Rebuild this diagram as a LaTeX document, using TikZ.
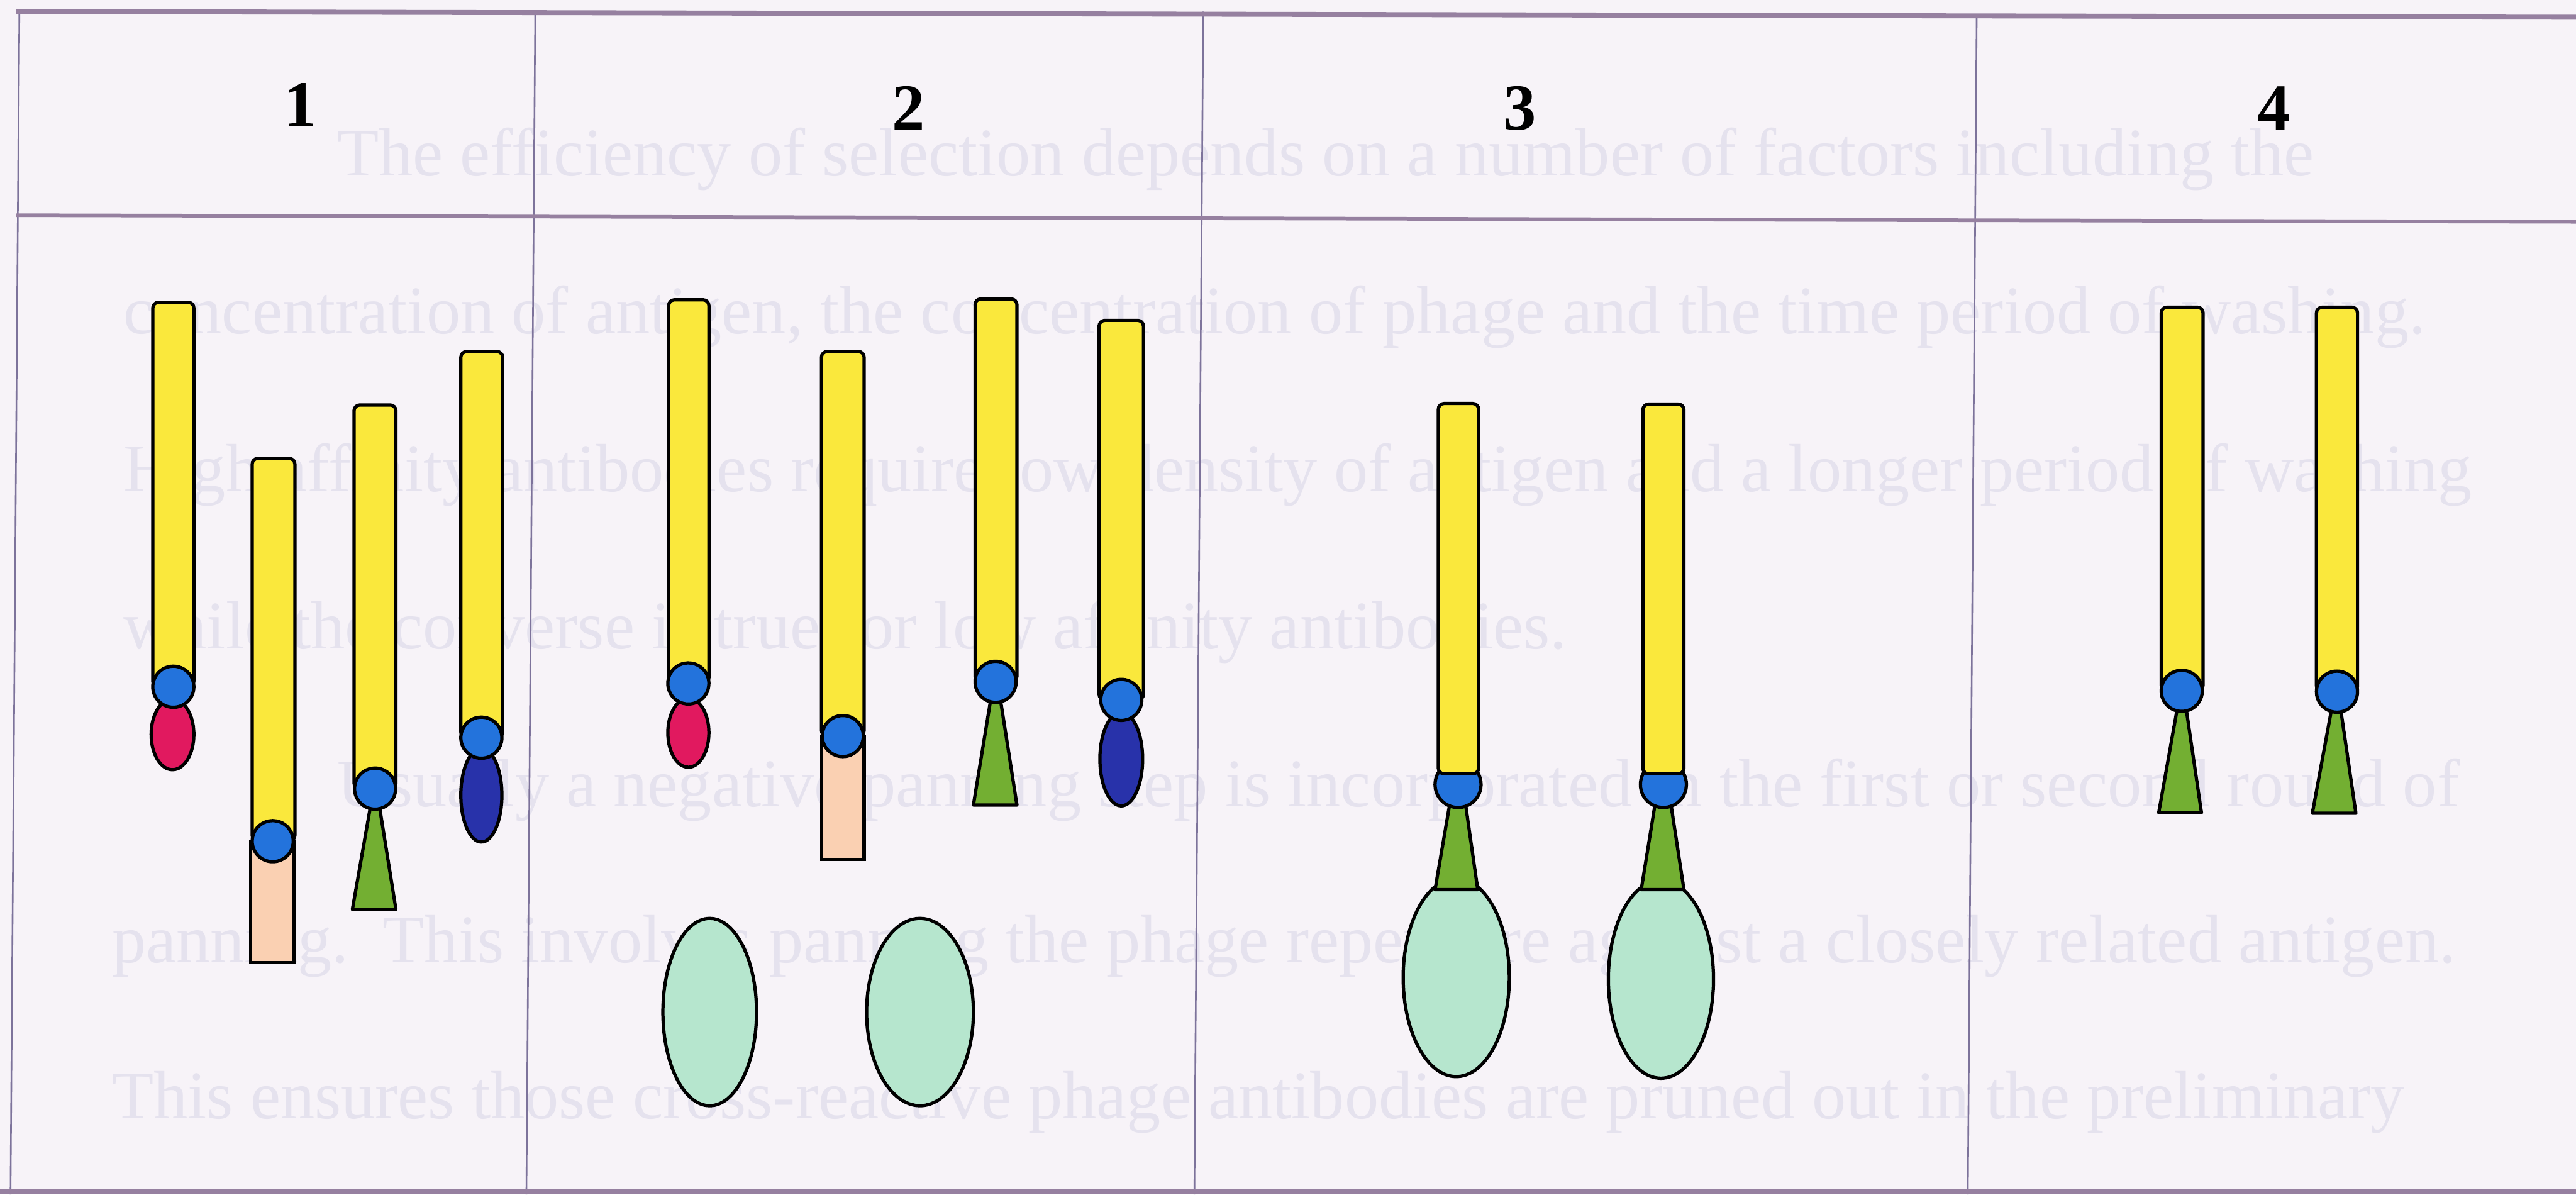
\documentclass[tikz,border=0pt]{standalone}
\usepackage{fontspec}
\setmainfont{Liberation Serif}

\definecolor{paper}{RGB}{247,243,248}
\definecolor{ghost}{RGB}{229,226,238}
\definecolor{hline}{RGB}{150,128,160}
\definecolor{vline}{RGB}{125,115,155}
\definecolor{rodyellow}{RGB}{250,232,60}
\definecolor{hinge}{RGB}{35,115,220}
\definecolor{epired}{RGB}{225,25,95}
\definecolor{epinavy}{RGB}{40,50,170}
\definecolor{epipeach}{RGB}{250,208,178}
\definecolor{epigreen}{RGB}{115,175,50}
\definecolor{antigen}{RGB}{182,230,206}

\tikzset{
  outl/.style={draw=black, line width=2pt},
  rod/.style={outl, fill=rodyellow, rounded corners=3.5pt},
  hingeball/.style={outl, fill=hinge},
  redtip/.style={outl, fill=epired},
  navytip/.style={outl, fill=epinavy},
  peachtip/.style={outl, fill=epipeach},
  greentip/.style={outl, fill=epigreen, line join=round},
  antigenblob/.style={outl, fill=antigen},
  thickrule/.style={draw=hline, line width=3pt},
  headrule/.style={draw=hline, line width=2.2pt},
  colrule/.style={draw=vline, line width=1pt},
  headnum/.style={font=\fontsize{40}{40}\selectfont\bfseries, inner sep=0pt, anchor=base},
  bleed/.style={font=\fontsize{41.5}{41.5}\selectfont, text=ghost, inner sep=0pt, anchor=base west}
}

\begin{document}
\begin{tikzpicture}[x=1pt, y=-1pt]
  % page
  \fill[paper] (0,0) rectangle (1568,727);
  \useasboundingbox (0,0) rectangle (1568,727);

  % text from the reverse side of the sheet showing through
  \node[bleed] (b1) at (205,107) {The efficiency of selection depends on a number of factors including the};
  \node[bleed] (b2) at (75,203)  {concentration of antigen, the concentration of phage and the time period of washing.};
  \node[bleed] (b3) at (75,299)  {High affinity antibodies require low density of antigen and a longer period of washing};
  \node[bleed] (b4) at (75,395)  {while the converse is true for low affinity antibodies.};
  \node[bleed] (b5) at (205,491) {Usually a negative panning step is incorporated in the first or second round of};
  \node[bleed] (b6) at (68,586)  {panning.\ \ This involves panning the phage repertoire against a closely related antigen.};
  \node[bleed] (b7) at (68,681)  {This ensures those cross-reactive phage antibodies are pruned out in the preliminary};

  % table rules
  \draw[colrule] (11.8,7) -- (6.4,727);
  \draw[colrule] (325.8,7) -- (320.4,727);
  \draw[colrule] (732.4,7) -- (727,727);
  \draw[colrule] (1203.2,9) -- (1197.8,727);
  \draw[thickrule] (10,7) -- (1568,10.5);
  \draw[headrule] (10,131) -- (1568,135);
  \draw[thickrule] (0,725.5) -- (1568,725.5);

  % column headings
  \node[headnum] (h1) at (183,77) {1};
  \node[headnum] (h2) at (553,79) {2};
  \node[headnum] (h3) at (925,79) {3};
  \node[headnum] (h4) at (1384,79) {4};

  % ---- column 1 ----
  % red epitope
  \draw[rod] (93,184) rectangle (118,418);
  \draw[redtip] (105,447) ellipse [x radius=13, y radius=21.5];
  \draw[hingeball] (105.5,418) circle [radius=12.5];
  % peach epitope
  \draw[rod] (153.5,279) rectangle (179.5,512);
  \draw[peachtip] (152.5,512) rectangle (179,586);
  \draw[hingeball] (166,512) circle [radius=12.5];
  % green epitope
  \draw[rod] (215.5,246.5) rectangle (241,480);
  \draw[greentip] (226,488) -- (230.5,488) -- (241,553.5) -- (214.5,553.5) -- cycle;
  \draw[hingeball] (228.3,480) circle [radius=12.5];
  % navy epitope
  \draw[rod] (280.5,214) rectangle (306,449);
  \draw[navytip] (293,484) ellipse [x radius=12.5, y radius=28.5];
  \draw[hingeball] (293,449) circle [radius=12.5];

  % ---- column 2 ----
  \draw[rod] (407,182.5) rectangle (431.5,416);
  \draw[redtip] (419,446) ellipse [x radius=12.5, y radius=21];
  \draw[hingeball] (419,416) circle [radius=12.5];

  \draw[rod] (500,214) rectangle (526,448);
  \draw[peachtip] (500,448) rectangle (526,523);
  \draw[hingeball] (513,448) circle [radius=12.5];

  \draw[rod] (593.5,182) rectangle (619,415);
  \draw[greentip] (603.5,423) -- (608.5,423) -- (619,490) -- (592.5,490) -- cycle;
  \draw[hingeball] (606,415) circle [radius=12.5];

  \draw[rod] (669,195) rectangle (696,426);
  \draw[navytip] (682.5,462) ellipse [x radius=13, y radius=28.5];
  \draw[hingeball] (682.5,426) circle [radius=12.5];

  % free antigen
  \draw[antigenblob] (432,616) ellipse [x radius=28.5, y radius=57];
  \draw[antigenblob] (560,616) ellipse [x radius=32.5, y radius=57];

  % ---- column 3 ----
  \draw[antigenblob] (886.4,595) ellipse [x radius=32.3, y radius=60.3];
  \draw[greentip] (882.5,489) -- (892,489) -- (899.5,541.5) -- (873.5,541.5) -- cycle;
  \draw[hingeball] (887.5,477.5) circle [radius=14];
  \draw[rod] (875.5,245.6) rectangle (900,471);

  \draw[antigenblob] (1011,596) ellipse [x radius=32, y radius=60.3];
  \draw[greentip] (1007.5,489) -- (1017,489) -- (1025,541.5) -- (999,541.5) -- cycle;
  \draw[hingeball] (1012.5,477.5) circle [radius=14];
  \draw[rod] (1000,246) rectangle (1025,471);

  % ---- column 4 ----
  \draw[rod] (1315.5,187) rectangle (1341,420.5);
  \draw[greentip] (1325.5,430) -- (1330.5,430) -- (1340,494.6) -- (1314,494.6) -- cycle;
  \draw[hingeball] (1328,420.5) circle [radius=12.5];

  \draw[rod] (1410,187) rectangle (1435,421);
  \draw[greentip] (1419.5,430) -- (1424.5,430) -- (1434,495) -- (1407.5,495) -- cycle;
  \draw[hingeball] (1422.5,421) circle [radius=12.5];
\end{tikzpicture}
\end{document}
